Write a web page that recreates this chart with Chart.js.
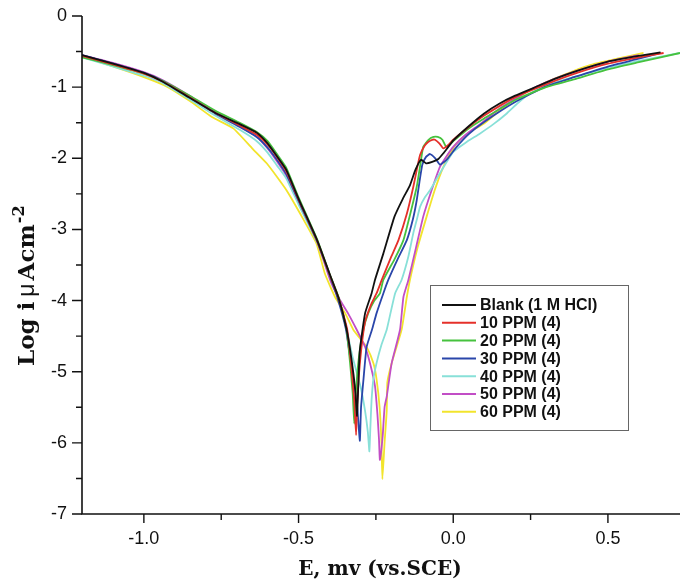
<!DOCTYPE html>
<html>
<head>
<meta charset="utf-8">
<script src="https://cdn.jsdelivr.net/npm/chart.js@4.4.1/dist/chart.umd.min.js"></script>
<style>
  html, body { margin: 0; padding: 0; background: #fff; }
  #wrap { width: 680px; height: 584px; position: relative; }
</style>
</head>
<body>
<div id="wrap"><canvas id="tafel"></canvas></div>
<script>
// Tafel curves, E (V vs SCE) against log i
const seriesNames = ['Blank (1 M HCl)', '10 PPM (4)', '20 PPM (4)', '30 PPM (4)', '40 PPM (4)', '50 PPM (4)', '60 PPM (4)'];
const seriesColors = ['#111111', '#e5302a', '#46c23e', '#2a46aa', '#88e0d8', '#c24ec6', '#f2e42c'];

const blankE = [-1.2, -1.1, -1.0, -0.94, -0.86, -0.77, -0.69, -0.635, -0.60, -0.57, -0.54, -0.50, -0.44, -0.40, -0.37, -0.345, -0.328, -0.317, -0.311,
  -0.307, -0.302, -0.285, -0.264, -0.253, -0.226, -0.19, -0.163, -0.14, -0.122, -0.104, -0.088, -0.068, -0.048, -0.032, -0.016, 0.0, 0.05, 0.1, 0.15, 0.2, 0.26, 0.33, 0.4, 0.5, 0.6, 0.67];
const blankLog = [-0.55, -0.67, -0.80, -0.92, -1.13, -1.36, -1.52, -1.64, -1.79, -1.97, -2.16, -2.57, -3.15, -3.62, -3.97, -4.40, -4.85, -5.25, -5.62,
  -5.20, -4.70, -4.18, -3.90, -3.71, -3.34, -2.82, -2.57, -2.38, -2.16, -2.02, -2.07, -2.05, -2.01, -1.93, -1.84, -1.75, -1.55, -1.37, -1.23, -1.12, -1.01, -0.88, -0.77, -0.64, -0.56, -0.51];

const ppm10E = [-1.2, -1.1, -1.0, -0.94, -0.86, -0.77, -0.69, -0.635, -0.60, -0.57, -0.54, -0.50, -0.44, -0.40, -0.37, -0.343, -0.33, -0.32, -0.314,
  -0.31, -0.30, -0.285, -0.265, -0.248, -0.231, -0.20, -0.177, -0.15, -0.129, -0.115, -0.107, -0.092, -0.081, -0.068, -0.059, -0.045, -0.032, -0.015, 0.0, 0.05, 0.1, 0.2, 0.3, 0.4, 0.5, 0.6, 0.68];
const ppm10Log = [-0.56, -0.68, -0.81, -0.92, -1.12, -1.36, -1.54, -1.67, -1.81, -1.98, -2.18, -2.58, -3.16, -3.63, -3.97, -4.40, -4.90, -5.40, -5.89,
  -5.40, -4.80, -4.30, -4.05, -3.90, -3.71, -3.38, -3.15, -2.78, -2.40, -2.10, -1.95, -1.82, -1.77, -1.74, -1.74, -1.79, -1.86, -1.81, -1.74, -1.56, -1.40, -1.14, -0.96, -0.80, -0.67, -0.58, -0.52];

const ppm20E = [-1.2, -1.1, -1.0, -0.94, -0.86, -0.77, -0.69, -0.635, -0.60, -0.57, -0.54, -0.50, -0.44, -0.40, -0.37, -0.345, -0.333, -0.325, -0.320,
  -0.315, -0.305, -0.29, -0.275, -0.255, -0.237, -0.226, -0.19, -0.161, -0.14, -0.118, -0.105, -0.097, -0.08, -0.064, -0.05, -0.035, -0.023, -0.01, 0.005, 0.05, 0.1, 0.2, 0.3, 0.39, 0.5, 0.6, 0.733];
const ppm20Log = [-0.58, -0.69, -0.81, -0.91, -1.10, -1.33, -1.50, -1.63, -1.76, -1.94, -2.13, -2.55, -3.14, -3.62, -3.96, -4.40, -4.90, -5.30, -5.73,
  -5.30, -4.80, -4.40, -4.18, -4.00, -3.90, -3.71, -3.42, -3.15, -2.80, -2.40, -2.05, -1.84, -1.74, -1.70, -1.70, -1.74, -1.84, -1.80, -1.74, -1.58, -1.44, -1.18, -1.00, -0.89, -0.75, -0.65, -0.52];

const ppm30E = [-1.2, -1.1, -1.0, -0.94, -0.86, -0.77, -0.69, -0.635, -0.60, -0.57, -0.54, -0.50, -0.44, -0.40, -0.375, -0.347, -0.33, -0.312, -0.302,
  -0.298, -0.29, -0.28, -0.262, -0.248, -0.226, -0.21, -0.18, -0.15, -0.13, -0.118, -0.108, -0.1, -0.088, -0.075, -0.058, -0.043, -0.021, 0.011, 0.05, 0.1, 0.2, 0.3, 0.39, 0.5, 0.6, 0.67];
const ppm30Log = [-0.55, -0.67, -0.80, -0.91, -1.12, -1.37, -1.56, -1.70, -1.85, -2.02, -2.22, -2.60, -3.17, -3.64, -3.95, -4.40, -4.90, -5.40, -5.97,
  -5.50, -5.10, -4.65, -4.40, -4.18, -3.90, -3.71, -3.42, -3.15, -2.85, -2.59, -2.30, -2.09, -1.98, -1.94, -2.00, -2.09, -2.02, -1.84, -1.66, -1.49, -1.21, -0.99, -0.86, -0.71, -0.60, -0.52];

const ppm40E = [-1.2, -1.1, -1.0, -0.94, -0.86, -0.77, -0.69, -0.635, -0.60, -0.57, -0.54, -0.50, -0.44, -0.40, -0.37, -0.35, -0.325, -0.30, -0.285, -0.276, -0.271,
  -0.268, -0.264, -0.258, -0.248, -0.232, -0.215, -0.188, -0.167, -0.145, -0.129, -0.117, -0.107, -0.092, -0.075, -0.043, 0.0, 0.04, 0.087, 0.13, 0.173, 0.21, 0.248, 0.3, 0.388, 0.5, 0.6, 0.733];
const ppm40Log = [-0.58, -0.71, -0.84, -0.94, -1.15, -1.40, -1.60, -1.76, -1.92, -2.10, -2.28, -2.65, -3.18, -3.64, -3.97, -4.30, -4.80, -5.20, -5.55, -5.85, -6.12,
  -5.80, -5.40, -5.10, -4.88, -4.62, -4.41, -3.90, -3.71, -3.38, -3.05, -2.85, -2.68, -2.55, -2.45, -2.21, -1.91, -1.78, -1.65, -1.52, -1.37, -1.22, -1.09, -0.98, -0.86, -0.73, -0.63, -0.52];

const ppm50E = [-1.2, -1.1, -1.0, -0.94, -0.86, -0.77, -0.69, -0.635, -0.60, -0.57, -0.54, -0.50, -0.44, -0.398, -0.372, -0.34, -0.312, -0.285, -0.269, -0.253, -0.245, -0.24, -0.237,
  -0.228, -0.222, -0.215, -0.21, -0.199, -0.172, -0.161, -0.145, -0.12, -0.097, -0.07, -0.043, -0.02, 0.0, 0.04, 0.087, 0.15, 0.248, 0.323, 0.4, 0.5, 0.6];
const ppm50Log = [-0.55, -0.66, -0.79, -0.90, -1.10, -1.35, -1.55, -1.70, -1.86, -2.04, -2.24, -2.62, -3.17, -3.71, -3.95, -4.18, -4.41, -4.65, -4.88, -5.20, -5.60, -5.95, -6.24,
  -5.90, -5.50, -5.35, -5.20, -4.88, -4.41, -3.95, -3.71, -3.25, -2.82, -2.45, -2.12, -1.96, -1.84, -1.67, -1.52, -1.30, -1.04, -0.89, -0.77, -0.64, -0.55];

const ppm60E = [-1.2, -1.1, -1.0, -0.927, -0.85, -0.78, -0.711, -0.65, -0.603, -0.57, -0.539, -0.496, -0.442, -0.415, -0.382, -0.349, -0.323, -0.30, -0.28, -0.258, -0.248, -0.238, -0.232, -0.229,
  -0.222, -0.215, -0.213, -0.199, -0.167, -0.15, -0.14, -0.115, -0.086, -0.06, -0.032, -0.01, 0.011, 0.05, 0.097, 0.15, 0.2, 0.281, 0.35, 0.442, 0.53, 0.615];
const ppm60Log = [-0.57, -0.71, -0.86, -0.99, -1.20, -1.42, -1.58, -1.86, -2.07, -2.26, -2.45, -2.77, -3.20, -3.62, -3.95, -4.18, -4.41, -4.54, -4.65, -4.88, -5.10, -5.50, -6.00, -6.51,
  -6.00, -5.55, -5.15, -4.88, -4.41, -3.95, -3.71, -3.25, -2.82, -2.45, -2.12, -1.93, -1.79, -1.64, -1.52, -1.33, -1.17, -0.97, -0.84, -0.69, -0.60, -0.52];

const seriesE = [blankE, ppm10E, ppm20E, ppm30E, ppm40E, ppm50E, ppm60E];
const seriesLog = [blankLog, ppm10Log, ppm20Log, ppm30Log, ppm40Log, ppm50Log, ppm60Log];

const xTicks = [-1.0, -0.5, 0.0, 0.5];
const xTickLabels = ['-1.0', '-0.5', '0.0', '0.5'];
const xMinorTicks = [-0.75, -0.25, 0.25];
const yTicks = [0, -1, -2, -3, -4, -5, -6, -7];
const yTickLabels = ['0', '-1', '-2', '-3', '-4', '-5', '-6', '-7'];
const yMinorTicks = [-0.5, -1.5, -2.5, -3.5, -4.5, -5.5, -6.5];

const SANS = '"Liberation Sans", Arial, sans-serif';
const SERIF = '"DejaVu Serif", serif';

// axis frame, tick marks, titles and the boxed legend
const framePlugin = {
  id: 'frame',
  afterDraw(chart) {
    const { ctx, chartArea: a, scales: { x, y } } = chart;
    ctx.save();
    ctx.strokeStyle = '#111';
    ctx.lineWidth = 1.6;
    ctx.beginPath();
    ctx.moveTo(a.left, a.top);
    ctx.lineTo(a.left, a.bottom);
    ctx.lineTo(a.right, a.bottom);
    ctx.stroke();

    ctx.lineWidth = 1.4;
    ctx.beginPath();
    xTicks.forEach(v => { const px = x.getPixelForValue(v); ctx.moveTo(px, a.bottom); ctx.lineTo(px, a.bottom + 9); });
    xMinorTicks.forEach(v => { const px = x.getPixelForValue(v); ctx.moveTo(px, a.bottom); ctx.lineTo(px, a.bottom + 6); });
    yTicks.forEach(v => { const py = y.getPixelForValue(v); ctx.moveTo(a.left, py); ctx.lineTo(a.left - 10, py); });
    yMinorTicks.forEach(v => { const py = y.getPixelForValue(v); ctx.moveTo(a.left, py); ctx.lineTo(a.left - 6, py); });
    ctx.stroke();

    // x title
    ctx.fillStyle = '#111';
    ctx.font = 'bold 20px ' + SERIF;
    ctx.textAlign = 'center';
    ctx.textBaseline = 'alphabetic';
    ctx.fillText('E, mv (vs.SCE)', 380, 575);

    // y title, rotated, with superscript
    ctx.save();
    ctx.translate(34, 366);
    ctx.rotate(-Math.PI / 2);
    ctx.textAlign = 'left';
    let cx = 0;
    const piece = (txt, font, dy, gap) => {
      ctx.font = font;
      ctx.fillText(txt, cx, dy);
      cx += ctx.measureText(txt).width + gap;
    };
    piece('Log i', 'bold 23px ' + SERIF, 0, 5);
    piece('\u03bc', '23px ' + SANS, 0, 3);
    piece('Acm', 'bold 23px ' + SERIF, 0, 1);
    piece('-2', 'bold 16px ' + SERIF, -10, 0);
    ctx.restore();

    // legend
    ctx.strokeStyle = '#666';
    ctx.lineWidth = 1;
    ctx.strokeRect(430.5, 285.5, 198, 145);
    ctx.font = 'bold 16px ' + SANS;
    ctx.textAlign = 'left';
    ctx.textBaseline = 'middle';
    chart.data.datasets.forEach((ds, i) => {
      const cy = 305 + i * 17.8;
      ctx.strokeStyle = ds.borderColor;
      ctx.lineWidth = 2;
      ctx.beginPath();
      ctx.moveTo(442, cy);
      ctx.lineTo(476, cy);
      ctx.stroke();
      ctx.fillStyle = '#111';
      ctx.fillText(ds.label, 480, cy + 1);
    });
    ctx.restore();
  }
};

const datasets = seriesNames.map((name, i) => ({
  label: name,
  data: seriesE[i].map((e, j) => ({ x: e, y: seriesLog[i][j] })),
  borderColor: seriesColors[i],
  borderWidth: 1.8,
  pointRadius: 0,
  tension: 0.15,
  fill: false
}));

new Chart(document.getElementById('tafel'), {
  type: 'scatter',
  data: { datasets },
  options: {
    responsive: true,
    maintainAspectRatio: false,
    animation: false,
    showLine: true,
    layout: { padding: { top: 16, right: 0, left: 0, bottom: 0 } },
    plugins: { legend: { display: false }, tooltip: { enabled: false } },
    scales: {
      x: {
        type: 'linear', min: -1.2, max: 0.733,
        afterFit: s => { s.height = 70; s.paddingLeft = 0; s.paddingRight = 0; },
        afterBuildTicks: s => { s.ticks = xTicks.map(v => ({ value: v })); },
        grid: { display: false, drawTicks: false },
        border: { display: false },
        ticks: { padding: 14, color: '#111', font: { family: SANS, size: 18 }, callback: (v, i) => xTickLabels[i] }
      },
      y: {
        type: 'linear', min: -7, max: 0,
        afterFit: s => { s.width = 82; s.paddingTop = 0; s.paddingBottom = 0; },
        afterBuildTicks: s => { s.ticks = yTicks.map(v => ({ value: v })); },
        grid: { display: false, drawTicks: false },
        border: { display: false },
        ticks: { padding: 15, color: '#111', font: { family: SANS, size: 18 }, callback: (v, i) => yTickLabels[i] }
      }
    }
  },
  plugins: [framePlugin]
});
</script>
</body>
</html>
